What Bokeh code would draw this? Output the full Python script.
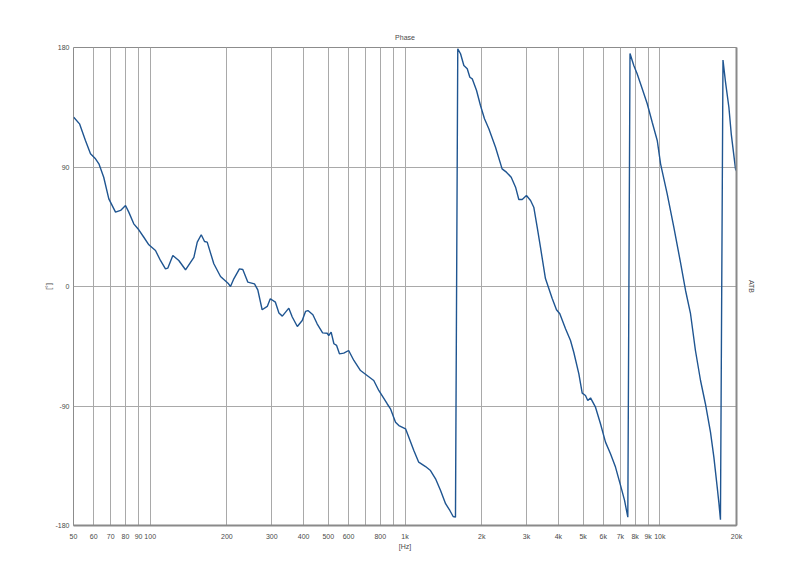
from bokeh.plotting import figure
from bokeh.models import FixedTicker, Range1d, LinearAxis
from bokeh.embed import file_html
from bokeh.resources import INLINE

# ---- data ----
freq_hz = [50.1, 52.8, 55.7, 58.3, 61.0, 62.9, 65.7, 68.8, 73.1, 76.5, 80.0, 82.4,
           86.2, 90.2, 94.4, 98.8, 104.9, 109.7, 114.8, 117.2, 122.7, 129.5, 137.6,
           148.4, 153.0, 158.6, 163.4, 167.4, 177.7, 188.8, 202, 206.6, 212.9, 224,
           230.9, 241.5, 256.6, 264.4, 275, 288, 296, 310, 320, 330, 350, 361, 378,
           395, 407, 416, 435, 452, 475, 495, 502, 513, 526, 539, 553, 575, 601, 630,
           669, 710, 754, 789, 851, 877, 918, 946, 1005, 1035, 1083, 1132, 1204, 1259,
           1318, 1379, 1443, 1500, 1545, 1578, 1611, 1652, 1702, 1755, 1797, 1836,
           1909, 1978, 2051, 2133, 2266, 2405, 2500, 2611, 2716, 2797, 2884, 2997,
           3110, 3202, 3302, 3401, 3558, 3782, 3931, 4051, 4266, 4462, 4596, 4812,
           4960, 5109, 5216, 5347, 5593, 5851, 6122, 6404, 6701, 7013, 7272, 7490,
           7640, 7906, 8148, 8531, 8927, 9337, 9771, 10070, 10690, 11350, 12050,
           12620, 13200, 13800, 14450, 15100, 15810, 16300, 16800, 17070, 17300,
           17700, 18110, 18670, 19070, 19820, 20000]
phase_deg = [127.5, 122.5, 110, 100, 96.2, 92.4, 82.3, 66, 56, 57.3, 61, 56,
             47.2, 42.7, 37.1, 31.4, 27.1, 19.6, 13.3, 13.8, 23.4, 19.6, 12.6,
             22, 33.4, 39, 33.9, 33.4, 17.1, 7.5, 2.5, 0, 5.8, 13.3,
             12.8, 3.3, 2, -2.5, -17.5, -15, -9.2, -11.8, -20, -22.3, -16.3, -23, -30.1,
             -25.6, -18.8, -18.1, -21.3, -28.1, -34.9, -35.2, -36.9, -34.4, -43.1, -44.4, -50.7, -50.2, -48.2, -55.7,
             -63.3, -67, -70.8, -78.3, -88.3, -92.1, -102.2, -104.7, -107.2, -113.5, -123.5, -132.3, -135.6, -138.6,
             -144.8, -153.6, -163.6, -168.7, -173.2, -173.7, 179, 175.3, 166.4, 164, 157.6, 156.4,
             147.6, 136.3, 126.3, 118.8, 104.9, 88.6, 86.1, 82.3, 74.8, 65.5, 65.5, 68.5,
             64.8, 59.7, 44.7, 29.6, 6, -9, -17.5, -20.5, -31.8, -40.7, -49.5, -65.8,
             -80.3, -82.1, -85.9, -83.9, -90.9, -103.4, -117.2, -126, -136, -149.8, -161.1, -173.7,
             175.5, 166.4, 160.2, 148.9, 137.6, 123.7, 110, 92.4, 69.8, 44.7, 18.4,
             -3, -20.5, -48.2, -70.8, -88.3, -109.7, -128.5, -151.1, -163.6, -175.7,
             170.5, 153.9, 135, 115, 88.6, 87]

grid_freqs = [50, 60, 70, 80, 90, 100, 200, 300, 400, 500, 600, 700, 800, 900,
              1000, 2000, 3000, 4000, 5000, 6000, 7000, 8000, 9000, 10000, 20000]
x_tick_values = [50, 60, 70, 80, 90, 100, 200, 300, 400, 500, 600, 800,
                 1000, 2000, 3000, 4000, 5000, 6000, 7000, 8000, 9000, 10000, 20000]
x_tick_labels = ["50", "60", "70", "80", "90", "100", "200", "300", "400", "500", "600", "800",
                 "1k", "2k", "3k", "4k", "5k", "6k", "7k", "8k", "9k", "10k", "20k"]
y_tick_values = [-180, -90, 0, 90, 180]
y_tick_labels = ["-180", "-90", "0", "90", "180"]

FONT = "Liberation Sans"
TXT = "#4a4a4a"

p = figure(width=784, height=563, x_axis_type="log",
           x_range=Range1d(50, 20000), y_range=Range1d(-180, 180),
           output_backend="svg", toolbar_location=None, title="Phase",
           min_border_left=73, min_border_right=48, min_border_top=47,
           min_border_bottom=38, background_fill_color="white",
           border_fill_color="white")

p.title.align = "center"
p.title.text_font = FONT
p.title.text_font_size = "7px"
p.title.text_font_style = "normal"
p.title.text_color = TXT
p.title.standoff = 14

p.outline_line_color = "#8c8c8c"
p.outline_line_width = 1

p.line(freq_hz, phase_deg, line_color="#1f5591", line_width=1.4)

# grids
p.xgrid.ticker = FixedTicker(ticks=grid_freqs)
p.ygrid.ticker = FixedTicker(ticks=y_tick_values)
for g in (p.xgrid, p.ygrid):
    g.grid_line_color = "#a9a9a9"
    g.grid_line_width = 1
    g.grid_line_alpha = 1.0

# x axis
xa = p.xaxis[0]
xa.ticker = FixedTicker(ticks=x_tick_values)
xa.major_label_overrides = {v: l for v, l in zip(x_tick_values, x_tick_labels)}
xa.axis_label = "[Hz]"
xa.axis_line_color = "#8a8a8a"
xa.axis_line_width = 2
xa.major_tick_line_color = None
xa.minor_tick_line_color = None
xa.major_tick_out = 0
xa.major_tick_in = 0
xa.major_label_standoff = 7
xa.axis_label_standoff = 0

# y axis
ya = p.yaxis[0]
ya.ticker = FixedTicker(ticks=y_tick_values)
ya.major_label_overrides = {v: l for v, l in zip(y_tick_values, y_tick_labels)}
ya.axis_label = "[°]"
ya.axis_line_color = None
ya.major_tick_line_color = None
ya.minor_tick_line_color = None
ya.major_tick_out = 0
ya.major_tick_in = 0
ya.major_label_standoff = 4
ya.axis_label_standoff = 0

# right axis (label only)
ra = LinearAxis(ticker=FixedTicker(ticks=[]), axis_label="ATB")
ra.axis_line_color = "#8a8a8a"
ra.axis_line_width = 2
ra.major_tick_line_color = None
ra.minor_tick_line_color = None
ra.axis_label_standoff = 11
p.add_layout(ra, "right")

for ax in (xa, ya, ra):
    ax.major_label_text_font = FONT
    ax.major_label_text_font_size = "7px"
    ax.major_label_text_color = TXT
    ax.axis_label_text_font = FONT
    ax.axis_label_text_font_size = "7px"
    ax.axis_label_text_font_style = "normal"
    ax.axis_label_text_color = TXT

open("out.html", "w").write(file_html(p, INLINE))
